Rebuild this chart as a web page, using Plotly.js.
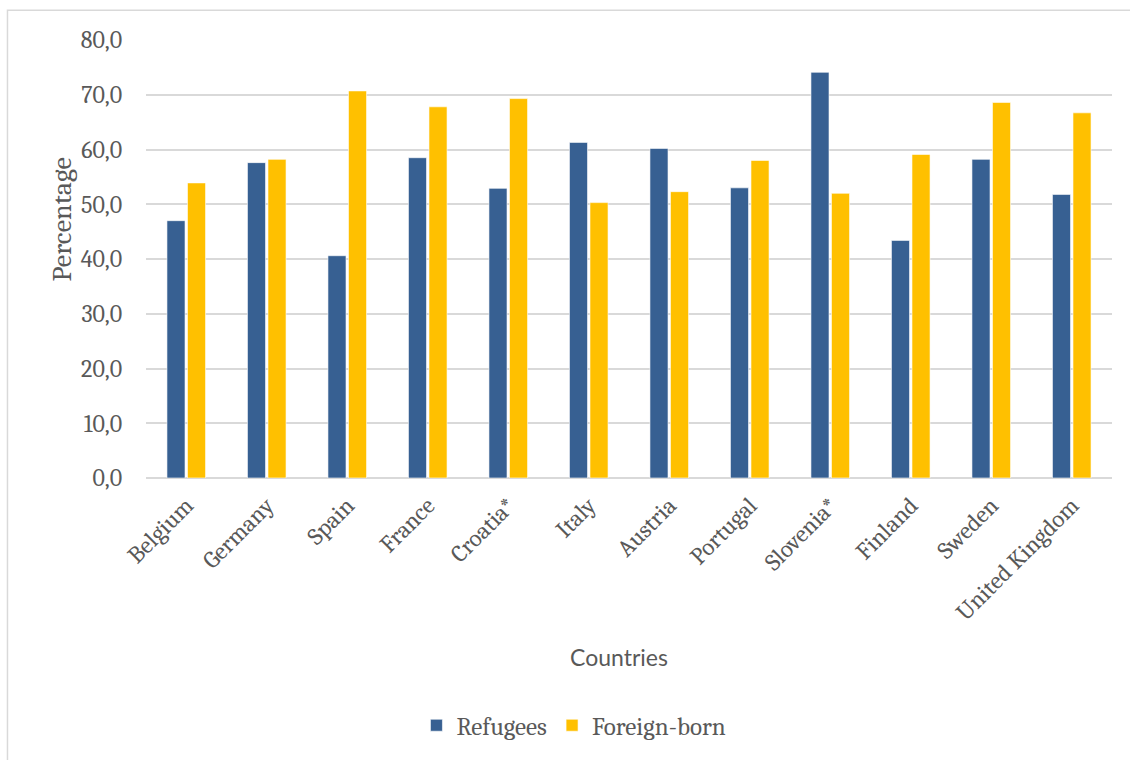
<!DOCTYPE html>
<html>
<head>
<meta charset="utf-8">
<script src="https://cdn.plot.ly/plotly-3.0.1.min.js"></script>
<style>
  html, body { margin: 0; padding: 0; background: #ffffff; }
  #chart { width: 1130px; height: 760px; }
</style>
</head>
<body>
<div id="chart"></div>
<script>
// Countries on the category axis
const countries = ['Belgium', 'Germany', 'Spain', 'France', 'Croatia*', 'Italy',
  'Austria', 'Portugal', 'Slovenia*', 'Finland', 'Sweden', 'United Kingdom'];

// Percentage values per group
const refugees = [47.0, 57.6, 40.6, 58.5, 52.9, 61.3, 60.2, 53.0, 74.1, 43.4, 58.2, 51.8];
const foreignBorn = [53.9, 58.2, 70.7, 67.8, 69.3, 50.3, 52.3, 58.0, 52.0, 59.1, 68.6, 66.7];

// Y-axis tick values
const yTicks = [0, 10, 20, 30, 40, 50, 60, 70, 80];

const serif = 'Cambria, Caladea, "DejaVu Serif", serif';
const labelColor = '#595959';

const traces = [
  {
    type: 'bar', name: 'Refugees', x: countries, y: refugees,
    marker: { color: '#376092', line: { color: '#ffffff', width: 0.6 } }
  },
  {
    type: 'bar', name: 'Foreign-born', x: countries, y: foreignBorn,
    marker: { color: '#ffc000', line: { color: '#ffffff', width: 0.6 } }
  }
];

const layout = {
  width: 1130, height: 760,
  margin: { l: 146, r: 18, t: 40, b: 280 },
  paper_bgcolor: '#ffffff', plot_bgcolor: '#ffffff',
  separators: ',.',
  barmode: 'group',
  bargap: 0.49,
  bargroupgap: 0.12,
  showlegend: true,
  legend: {
    orientation: 'h', x: 0.443, xanchor: 'center', y: -0.565, yanchor: 'middle',
    font: { family: serif, size: 25, color: labelColor },
    itemwidth: 30, tracegroupgap: 0
  },
  xaxis: {
    type: 'category',
    automargin: false,
    tickangle: -45,
    tickfont: { family: serif, size: 24, color: labelColor },
    showgrid: false, zeroline: false, showline: false,
    ticks: 'outside', ticklen: 3, tickcolor: 'rgba(0,0,0,0)'
  },
  yaxis: {
    range: [0, 80],
    automargin: false,
    tickvals: yTicks,
    tickformat: '.1f',
    tickfont: { family: serif, size: 24, color: labelColor },
    showgrid: true, gridcolor: '#d9d9d9', gridwidth: 2,
    zeroline: true, zerolinecolor: '#d9d9d9', zerolinewidth: 2,
    showline: false,
    ticks: 'outside', ticklen: 18, tickcolor: 'rgba(0,0,0,0)'
  },
  annotations: [
    {
      text: 'Percentage', xref: 'paper', yref: 'paper',
      x: -0.087, y: 0.59, xanchor: 'center', yanchor: 'middle', textangle: -90,
      showarrow: false, font: { family: serif, size: 28, color: labelColor }
    },
    {
      text: 'Countries', xref: 'paper', yref: 'paper',
      x: 0.49, y: -0.408, xanchor: 'center', yanchor: 'middle',
      showarrow: false, font: { family: 'Lato, "Open Sans", sans-serif', size: 23, color: labelColor }
    }
  ],
  shapes: [
    // chart frame
    {
      type: 'rect', xref: 'paper', yref: 'paper',
      x0: -0.1434, x1: 1.03, y0: -0.7, y1: 1.0682,
      line: { color: '#d9d9d9', width: 1.5 }, fillcolor: 'rgba(0,0,0,0)', layer: 'below'
    }
  ]
};

Plotly.newPlot('chart', traces, layout, { displayModeBar: false, staticPlot: true });
</script>
</body>
</html>
